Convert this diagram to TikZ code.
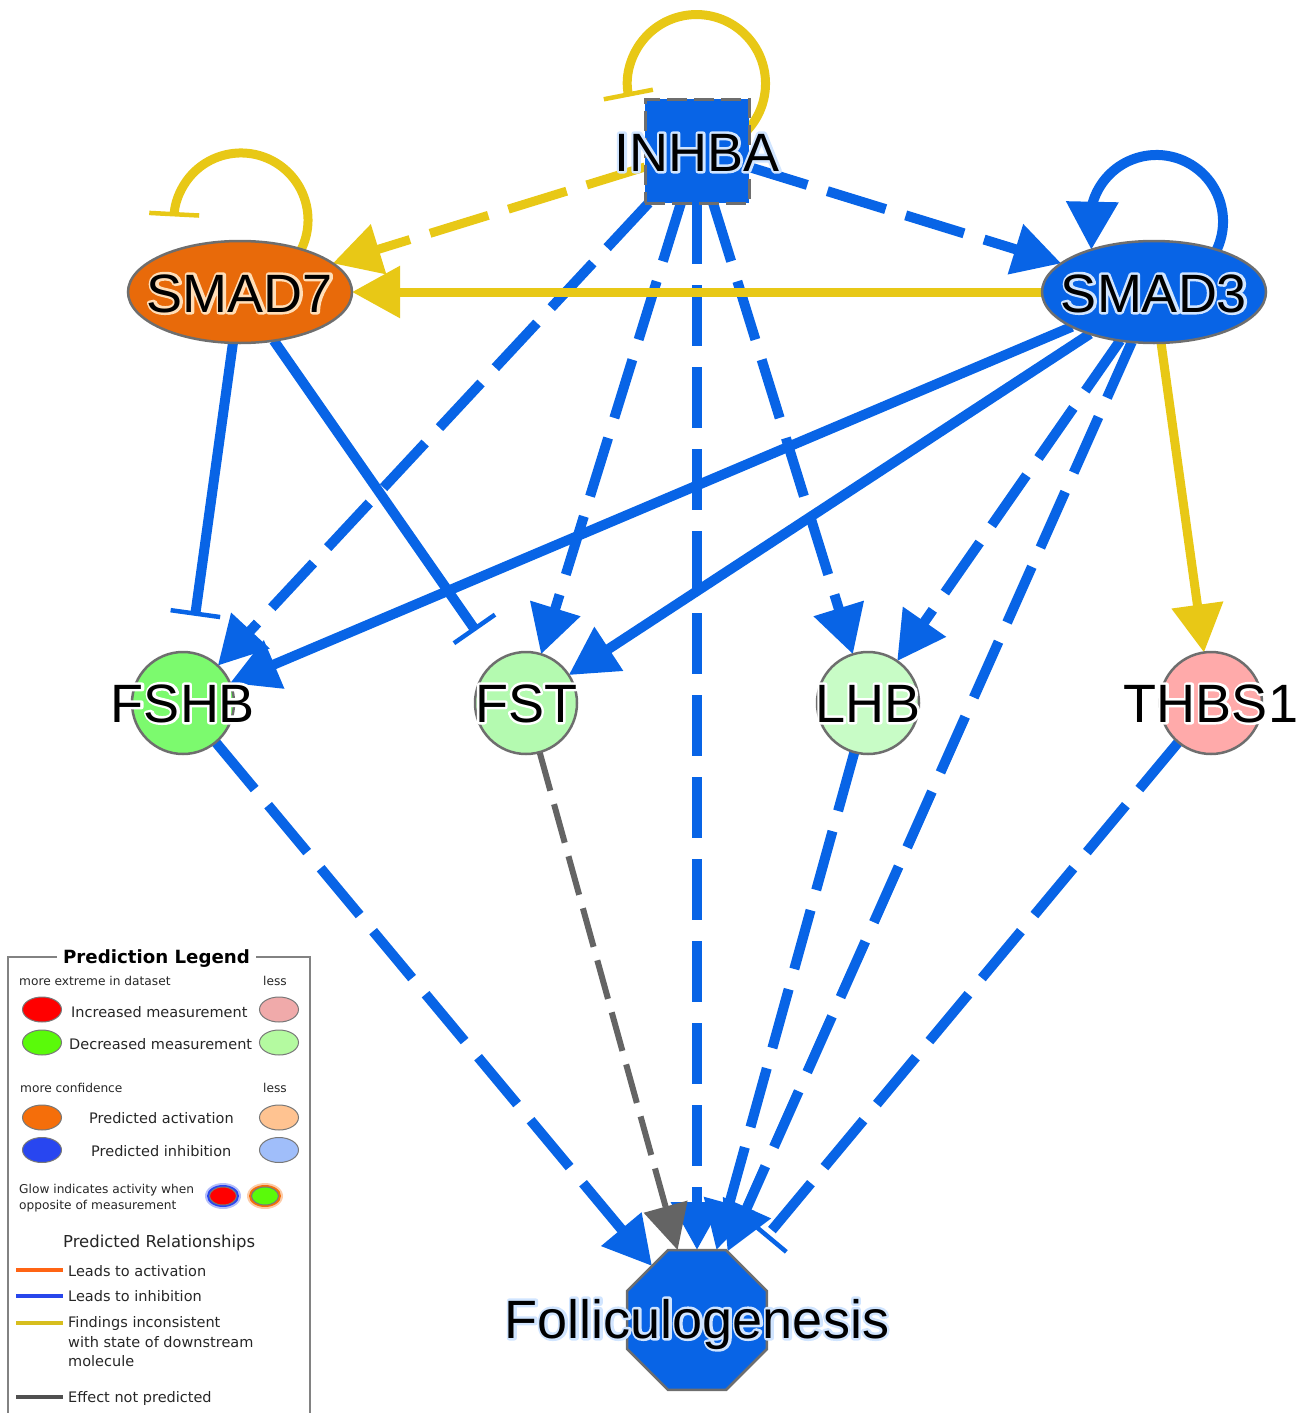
\documentclass[tikz,border=0pt]{standalone}
\usepackage{fontspec}
\usetikzlibrary{arrows.meta,shapes.geometric,calc}
\newfontfamily\lblfont{Liberation Sans}
\newfontfamily\legfont{DejaVu Sans}

% text with a light halo: stroked copy under the filled text
\newcommand{\haloed}[2]{\rlap{\special{pdf:code 1 Tr 5 w 1 J 1 j #1 RG}#2\special{pdf:code 0 Tr}}#2}

\definecolor{ipablue}{RGB}{8,100,230}
\definecolor{ipayel}{RGB}{232,200,22}
\definecolor{ipagray}{RGB}{100,100,100}
\definecolor{smador}{RGB}{232,106,10}
\definecolor{fshbg}{RGB}{124,250,110}
\definecolor{fstg}{RGB}{180,250,176}
\definecolor{lhbg}{RGB}{200,252,198}
\definecolor{thbsr}{RGB}{255,170,170}
\definecolor{nodeborder}{RGB}{110,110,110}
\definecolor{lgred}{RGB}{255,0,0}
\definecolor{lgpink}{RGB}{240,170,170}
\definecolor{lggreen}{RGB}{90,250,10}
\definecolor{lglgreen}{RGB}{180,250,160}
\definecolor{lgorange}{RGB}{245,110,10}
\definecolor{lglorange}{RGB}{255,195,145}
\definecolor{lgblue}{RGB}{40,70,240}
\definecolor{lglblue}{RGB}{160,190,250}
\definecolor{lnorange}{RGB}{255,100,20}
\definecolor{lnblue}{RGB}{40,70,235}
\definecolor{lnyellow}{RGB}{215,190,30}
\definecolor{lngray}{RGB}{80,80,80}
\definecolor{legborder}{RGB}{120,120,120}
\definecolor{legframe}{RGB}{130,130,130}

\pgfdeclarelayer{edges}
\pgfsetlayers{edges,main}

\tikzset{
  gene/.style={draw=nodeborder, line width=2.5pt, inner sep=0pt, outer sep=0pt},
  circ/.style={gene, circle, minimum size=102pt},
  ell/.style={gene, ellipse, minimum width=224pt, minimum height=102pt},
  lbl/.style={font=\lblfont\fontsize{54}{60}\selectfont, anchor=base, inner sep=0pt, text=black},
  blu/.style={draw=ipablue, line width=10pt},
  yel/.style={draw=ipayel, line width=9pt},
  gry/.style={draw=ipagray, line width=6pt},
  dsh/.style={dash pattern=on 61pt off 21pt},
  gdsh/.style={dash pattern=on 40pt off 14pt},
  arr/.style={-{Triangle[length=48pt,width=50pt]}},
  garr/.style={-{Triangle[length=45pt,width=44pt]}},
  inh/.style={-{Bar[width=50pt,line width=4.5pt]}, shorten >=37pt},
  loopinh/.style={-{Bar[width=50pt,line width=4.5pt]}},
  legtxt/.style={font=\legfont\fontsize{14.5}{17}\selectfont, anchor=base west, inner sep=0pt, text=black!85},
  legsmall/.style={font=\legfont\fontsize{12.2}{14}\selectfont, anchor=base west, inner sep=0pt, text=black!85},
  legell/.style={ellipse, draw=legborder, line width=1pt, minimum width=39pt, minimum height=25pt, inner sep=0pt},
  legline/.style={line width=4pt},
}

\begin{document}
\begin{tikzpicture}[x=1pt,y=-1pt]
\useasboundingbox (0,0) rectangle (1303,1413);

% ---------- gene nodes ----------
\node[gene, rectangle, minimum size=104pt, fill=ipablue, line width=3pt, dash pattern=on 20pt off 7pt] (inhba) at (697,151) {};
\node[ell, fill=smador] (smad7) at (240,292) {};
\node[ell, fill=ipablue] (smad3) at (1154,292) {};
\node[circ, fill=fshbg] (fshb) at (183,703) {};
\node[circ, fill=fstg] (fst) at (526,703) {};
\node[circ, fill=lhbg] (lhb) at (868,703) {};
\node[circ, fill=thbsr] (thbs1) at (1211,703) {};
\node[gene, regular polygon, regular polygon sides=8, minimum size=151.5pt, fill=ipablue] (foll) at (697,1320) {};

% ---------- edges ----------
\begin{pgfonlayer}{edges}
% self loops
\draw[yel, loopinh] ([shift={(50.8,-21.3)}]inhba.center) arc[start angle=42, end angle=-191, radius=69];
\draw[yel, loopinh] ([shift={(55.9,-33.6)}]smad7.center) arc[start angle=35, end angle=-177, radius=67];
\draw[blu, arr] ([shift={(57,-32.4)}]smad3.center) arc[start angle=35, end angle=-165, radius=66.5] -- (smad3.146.7);
% from INHBA
\draw[yel, dsh, arr] (inhba) -- (smad7);
\draw[blu, dsh, arr] (inhba) -- (smad3);
\draw[blu, dsh, arr] (inhba) -- (fshb);
\draw[blu, dsh, arr] (inhba) -- (fst);
\draw[blu, dsh, arr] (inhba) -- (foll);
\draw[blu, dsh, arr] (inhba) -- (lhb);
% from SMAD3
\draw[yel, arr] (smad3) -- (smad7);
\draw[blu, arr] (smad3) -- (fshb);
\draw[blu, arr] (smad3) -- (fst);
\draw[blu, dsh, arr] (smad3) -- (lhb);
\draw[blu, dsh, arr] (smad3) -- (foll);
\draw[yel, arr] (smad3) -- (thbs1);
% from SMAD7
\draw[blu, inh] (smad7) -- (fshb);
\draw[blu, inh] (smad7) -- (fst);
% to Folliculogenesis
\draw[blu, dsh, arr] (fshb) -- (foll);
\draw[gry, gdsh, garr] (fst) -- (foll);
\draw[blu, dsh, arr] (lhb) -- (foll);
\draw[blu, dsh, inh] (thbs1) -- (foll);
\end{pgfonlayer}

% ---------- labels ----------
\node[lbl] (inhbaL) at ([yshift=-20pt]inhba.center) {\haloed{0.82 0.9 1}{INHBA}};
\node[lbl] (smad7L) at ([yshift=-20pt]smad7.center) {\haloed{1 0.87 0.72}{SMAD7}};
\node[lbl] (smad3L) at ([yshift=-20pt]smad3.center) {\haloed{0.82 0.9 1}{SMAD3}};
\node[lbl] (fshbL) at ([yshift=-19pt]fshb.center) {\haloed{1 1 1}{FSHB}};
\node[lbl] (fstL) at ([yshift=-19pt]fst.center) {\haloed{1 1 1}{FST}};
\node[lbl] (lhbL) at ([yshift=-19pt]lhb.center) {\haloed{1 1 1}{LHB}};
\node[lbl] (thbs1L) at ([yshift=-19pt]thbs1.center) {\haloed{1 1 1}{THBS1}};
\node[lbl] (follL) at ([yshift=-18pt]foll.center) {\haloed{0.82 0.9 1}{Folliculogenesis}};

% ---------- legend ----------
\node[font=\legfont\bfseries\fontsize{18.2}{20}\selectfont, anchor=base, inner sep=0pt] (legtitle) at (156.5,963) {Prediction Legend};
\draw[legframe, line width=1.5pt] (57,957) -- (8,957) -- (8,1413);
\draw[legframe, line width=1.5pt] (256,957) -- (310,957) -- (310,1413);

\node[legsmall] (t1) at (19,985) {more extreme in dataset};
\node[legsmall] (t2) at (263,985) {less};
\node[legell, fill=lgred] (e1) at (42,1009.5) {};
\node[legtxt] (t3) at (71,1017) {Increased measurement};
\node[legell, fill=lgpink] (e2) at (279,1009.5) {};
\node[legell, fill=lggreen] (e3) at (42,1042.5) {};
\node[legtxt] (t4) at (69,1049) {Decreased measurement};
\node[legell, fill=lglgreen] (e4) at (279,1042.5) {};
\node[legsmall] (t5) at (20,1092) {more confidence};
\node[legsmall] (t6) at (263,1092) {less};
\node[legell, fill=lgorange] (e5) at (42,1117.5) {};
\node[legtxt] (t7) at (89,1123) {Predicted activation};
\node[legell, fill=lglorange] (e6) at (279,1117.5) {};
\node[legell, fill=lgblue] (e7) at (42,1150) {};
\node[legtxt] (t8) at (91,1156) {Predicted inhibition};
\node[legell, fill=lglblue] (e8) at (279,1150) {};

\node[legsmall] (t9) at (19,1193) {Glow indicates activity when};
\node[legsmall] (t10) at (19,1209) {opposite of measurement};
\node[ellipse, fill=lgblue, opacity=0.35, inner sep=0pt, minimum width=36pt, minimum height=26pt] (g1o) at (223,1196) {};
\node[ellipse, fill=lgblue, inner sep=0pt, minimum width=32pt, minimum height=22pt] (g1m) at (223,1196) {};
\node[legell, fill=lgred, minimum width=27pt, minimum height=18pt] (g1) at (223,1196) {};
\node[ellipse, fill=lgorange, opacity=0.35, inner sep=0pt, minimum width=36pt, minimum height=26pt] (g2o) at (265,1196) {};
\node[ellipse, fill=lgorange, inner sep=0pt, minimum width=32pt, minimum height=22pt] (g2m) at (265,1196) {};
\node[legell, fill=lggreen, minimum width=27pt, minimum height=18pt] (g2) at (265,1196) {};

\node[font=\legfont\fontsize{16.45}{19}\selectfont, anchor=base west, inner sep=0pt, text=black!85] (t11) at (63,1247) {Predicted Relationships};
\draw[legline, lnorange] (16,1270) -- (63,1270);
\node[legtxt] (t12) at (68,1276) {Leads to activation};
\draw[legline, lnblue] (16,1296) -- (63,1296);
\node[legtxt] (t13) at (68,1301) {Leads to inhibition};
\draw[legline, lnyellow] (16,1323) -- (63,1323);
\node[legtxt] (t14) at (68,1327) {Findings inconsistent};
\node[legtxt] (t15) at (68,1347) {with state of downstream};
\node[legtxt] (t16) at (68,1366) {molecule};
\draw[legline, lngray] (16,1397) -- (63,1397);
\node[legtxt] (t17) at (68,1402) {Effect not predicted};
\end{tikzpicture}
\end{document}
